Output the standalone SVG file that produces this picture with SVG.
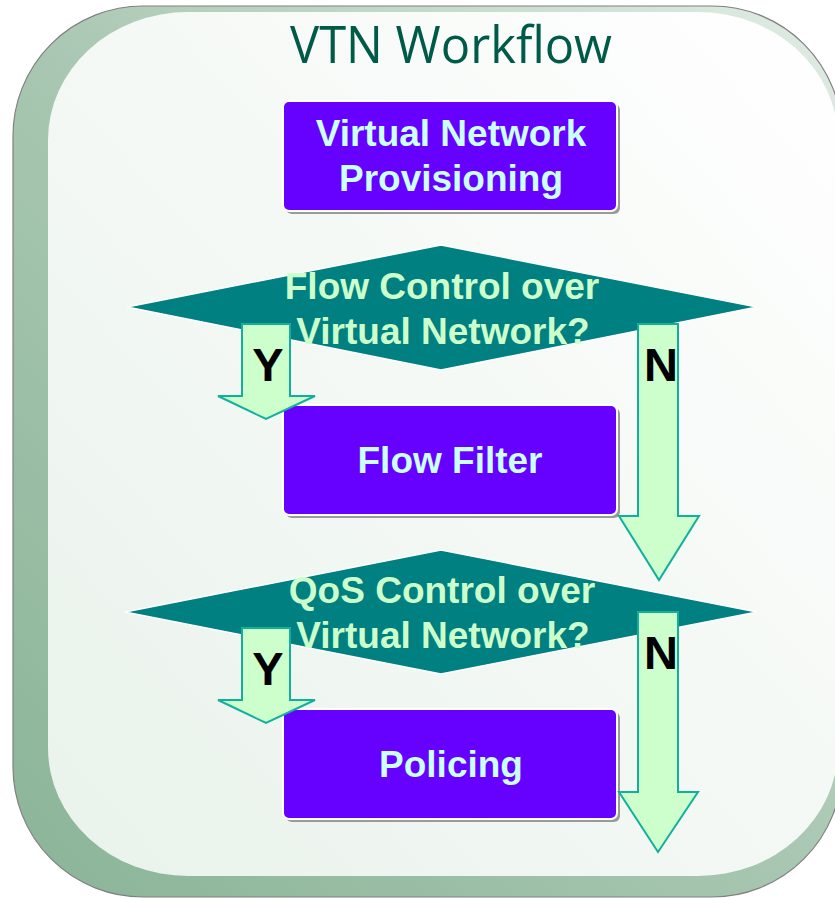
<svg xmlns="http://www.w3.org/2000/svg" width="835" height="898" viewBox="0 0 835 898">
<defs>
<linearGradient id="bevel" x1="0" y1="1" x2="1" y2="0">
<stop offset="0" stop-color="#8ab497"/>
<stop offset="0.5" stop-color="#a9c7b2"/>
<stop offset="1" stop-color="#e2ede5"/>
</linearGradient>
<linearGradient id="face" x1="0" y1="1" x2="1" y2="0">
<stop offset="0" stop-color="#e9f2eb"/>
<stop offset="1" stop-color="#ffffff"/>
</linearGradient>
<style>
.box{fill:#6600ff;stroke:#ffffff;stroke-width:2}
.shadow{fill:#9a9a9a}
.btxt{font-family:"Liberation Sans",Arial,sans-serif;font-weight:bold;font-size:37px;fill:#ccffff;text-anchor:middle}
.dia{fill:#008080;stroke:#ffffff;stroke-width:1.5}
.dtxt{font-family:"Liberation Sans",Arial,sans-serif;font-weight:bold;font-size:37px;fill:#ccffcc;text-anchor:middle}
.arr{fill:#ccffcc;stroke:#12b09c;stroke-width:2;stroke-linejoin:miter}
.yn{font-family:"Liberation Sans",Arial,sans-serif;font-weight:bold;font-size:47px;fill:#000000;text-anchor:middle}
</style>
</defs>
<g id="frame">
<rect x="13" y="6" width="829" height="891" rx="130" ry="130" fill="url(#bevel)" stroke="#808080" stroke-width="1.2"/>
<rect x="48" y="12" width="790" height="864" rx="140" ry="128" fill="url(#face)"/>
</g>
<g id="title">
<text x="290" y="63" font-family="'Open Sans','Noto Sans',sans-serif" font-size="52" fill="#005a48" textLength="322" lengthAdjust="spacingAndGlyphs">VTN Workflow</text>
</g>
<g id="decision1">
<polygon class="dia" points="127,307 441,245 757,307 441,370"/>
<text class="dtxt" x="442" y="299">Flow Control over</text>
<text class="dtxt" x="443" y="344">Virtual Network?</text>
</g>
<g id="decision2">
<polygon class="dia" points="125,612 441,550 757,612 441,674"/>
<text class="dtxt" x="442" y="603">QoS Control over</text>
<text class="dtxt" x="443" y="648">Virtual Network?</text>
</g>
<g id="provisioning">
<rect class="shadow" x="286" y="104" width="334" height="110" rx="6"/>
<rect class="box" x="283" y="101" width="334" height="110" rx="6"/>
<text class="btxt" x="451" y="146">Virtual Network</text>
<text class="btxt" x="451" y="191">Provisioning</text>
</g>
<g id="flowfilter">
<rect class="shadow" x="286" y="408" width="334" height="110" rx="6"/>
<rect class="box" x="283" y="405" width="334" height="110" rx="6"/>
<text class="btxt" x="450" y="473">Flow Filter</text>
</g>
<g id="policing">
<rect class="shadow" x="286" y="712" width="334" height="110" rx="6"/>
<rect class="box" x="283" y="709" width="334" height="110" rx="6"/>
<text class="btxt" x="451" y="777">Policing</text>
</g>
<g id="connectors">
<polygon class="arr" points="242,324 290,324 290,396 315,396 266,419 218,396 242,396"/>
<text class="yn" x="268" y="381">Y</text>
<polygon class="arr" points="638,324 678,324 678,516 699,516 659,580 619,516 638,516"/>
<text class="yn" x="661" y="381">N</text>
<polygon class="arr" points="242,628 290,628 290,700 315,700 266,723 218,700 242,700"/>
<text class="yn" x="268" y="685">Y</text>
<polygon class="arr" points="638,612 678,612 678,792 698,792 658,852 619,792 638,792"/>
<text class="yn" x="661" y="669">N</text>
</g>
</svg>
